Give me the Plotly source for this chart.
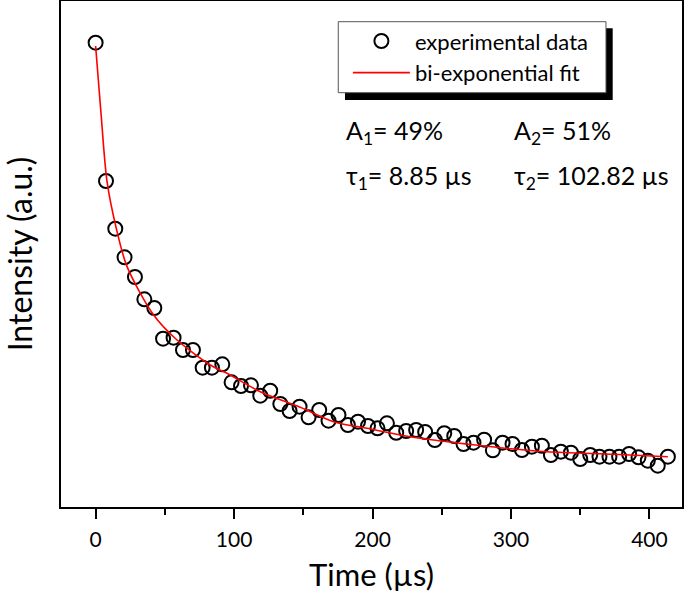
import plotly.graph_objects as go

# ---- data (time in µs, intensity in a.u.) ----
time_us = [0, 7.5, 14.2, 20.9, 28.4, 35.2, 42.4, 48.7, 56.3, 63.1, 70.3, 77.3, 84, 91.5,
           98.2, 105, 112.2, 118.9, 126.1, 133.4, 140.1, 147.3, 153.8, 161.5, 168.2, 175.4,
           182.2, 189.5, 196.7, 203.6, 210.4, 217.1, 224.3, 231.5, 238, 245, 251.8, 259,
           265.7, 272.9, 280.6, 286.9, 293.9, 301.1, 307.9, 315.1, 322.3, 328.8, 336, 343.3,
           350, 357.2, 363.9, 371.1, 378.1, 385.3, 392.1, 398.8, 406, 413.3]
intensity = [917.6, 644.3, 550.0, 493.5, 454.5, 410.5, 393.3, 332.6, 334.6, 310.3, 310.3,
             275.3, 275.3, 282.0, 246.4, 239.1, 240.5, 220.0, 229.8, 203.6, 189.7, 198.2,
             177.3, 191.7, 170.6, 181.8, 162.1, 168.6, 160.1, 155.5, 165.4, 146.8, 150.2,
             152.2, 148.2, 132.4, 145.7, 140.3, 124.5, 127.1, 133.0, 112.0, 127.1, 124.5,
             112.6, 119.2, 121.1, 102.8, 109.3, 107.3, 94.9, 102.8, 99.4, 99.4, 99.4, 104.7,
             98.2, 91.5, 81.6, 99.4]

fit_time = [0, 3.9, 8.2, 15, 22.7, 41.9, 58.8, 82.8, 94.9, 118.9, 147.8, 171.8, 196,
            220, 244, 268, 292.2, 325.9, 374, 413.3]
fit_intensity = [911, 778, 644, 550, 475, 379.4, 330, 280.6, 264.2, 227.9, 197, 168.6,
                 155.5, 142.3, 132.4, 124.5, 117.2, 109.3, 104.2, 99.4]

x_ticks = [0, 100, 200, 300, 400]

FONT = "Lato"

fig = go.Figure()
fig.add_trace(go.Scatter(
    x=time_us, y=intensity, mode="markers", name="experimental data",
    marker=dict(symbol="circle-open", size=14, color="black", line=dict(width=2, color="black")),
    legendrank=1,
))
fig.add_trace(go.Scatter(
    x=fit_time, y=fit_intensity, mode="lines", name="bi-exponential fit",
    line=dict(color="#ff0000", width=1.6, shape="spline", smoothing=0.8),
    legendrank=2,
))

# legend shadow and legend frame
fig.add_shape(type="rect", xref="paper", yref="paper",
              x0=0.4573, x1=0.8884, y0=0.8043, y1=0.946,
              fillcolor="black", line=dict(width=0), layer="above")
fig.add_shape(type="rect", xref="paper", yref="paper",
              x0=0.4465, x1=0.8776, y0=0.8188, y1=0.9591,
              fillcolor="white", line=dict(width=1, color="#555"), layer="above")

ann_font = dict(family=FONT, size=25, color="black")
fig.add_annotation(text="A<sub>1</sub>= 49%", xref="paper", yref="paper", x=0.455, y=0.741,
                   xanchor="left", yanchor="middle", showarrow=False, font=ann_font)
fig.add_annotation(text="A<sub>2</sub>= 51%", xref="paper", yref="paper", x=0.726, y=0.741,
                   xanchor="left", yanchor="middle", showarrow=False, font=ann_font)
fig.add_annotation(text="τ<sub>1</sub>= 8.85 µs", xref="paper", yref="paper", x=0.455, y=0.652,
                   xanchor="left", yanchor="middle", showarrow=False, font=ann_font)
fig.add_annotation(text="τ<sub>2</sub>= 102.82 µs", xref="paper", yref="paper", x=0.726, y=0.652,
                   xanchor="left", yanchor="middle", showarrow=False, font=ann_font)

fig.update_layout(
    width=685, height=593,
    margin=dict(l=61, r=3, t=1, b=86, autoexpand=False),
    paper_bgcolor="white", plot_bgcolor="white",
    font=dict(family=FONT, color="black"),
    showlegend=True,
    legend=dict(x=0.462, y=0.962, xanchor="left", yanchor="top",
                bgcolor="rgba(0,0,0,0)", borderwidth=0,
                font=dict(family=FONT, size=22, color="black"),
                itemwidth=57, tracegroupgap=0),
    xaxis=dict(range=[-25, 423.5], tickvals=x_ticks, ticktext=[str(v) for v in x_ticks],
               showgrid=False, zeroline=False, showline=True, linecolor="black", linewidth=2,
               mirror=True, ticks="outside", ticklen=10, tickwidth=2, tickcolor="black",
               minor=dict(dtick=50, tick0=0, ticks="outside", ticklen=6, tickwidth=2, tickcolor="black"),
               tickfont=dict(family=FONT, size=21), automargin=False, ticklabelstandoff=3,
               title=dict(text="Time (µs)", font=dict(family=FONT, size=31), standoff=15)),
    yaxis=dict(range=[0, 1000], showgrid=False, zeroline=False, showline=True, linecolor="black",
               linewidth=2, mirror=True, ticks="", showticklabels=False, automargin=False,
               title=dict(text="Intensity (a.u.)", font=dict(family=FONT, size=32), standoff=36)),
)

fig.write_html("out.html", config={"displayModeBar": False},
               post_script="document.body.style.margin='0';")
